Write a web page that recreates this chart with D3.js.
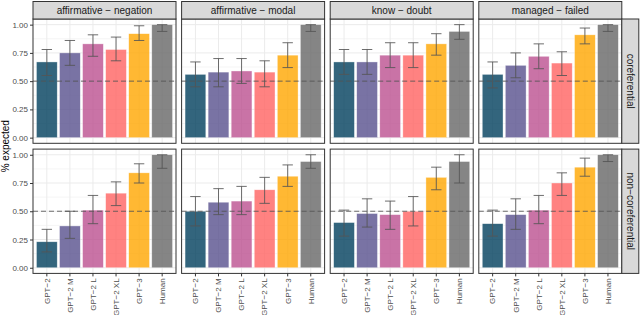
<!DOCTYPE html>
<html>
<head>
<meta charset="utf-8">
<script src="https://cdn.jsdelivr.net/npm/d3@7"></script>
<style>
  body { margin: 0; background: #fff; }
  svg { display: block; font-family: "Liberation Sans", Arial, sans-serif; }
</style>
</head>
<body>
<div id="chart"></div>
<script>
// models on the x axis, one facet column per contrast, one facet row per condition
var categories = ["GPT\u22122", "GPT\u22122 M", "GPT\u22122 L", "GPT\u22122 XL", "GPT\u22123", "Human"];
var contrasts = ["affirmative \u2212 negation", "affirmative \u2212 modal", "know \u2212 doubt", "managed \u2212 failed"];
var conditions = ["coreferential", "non\u2212coreferential"];
var yTicks = [0, 0.25, 0.5, 0.75, 1];
var yMinor = [0.125, 0.375, 0.625, 0.875];

// coreferential row (one array per contrast)
var corefMean = [
  [0.67, 0.75, 0.83, 0.78, 0.92, 1.00],
  [0.56, 0.58, 0.59, 0.58, 0.73, 1.00],
  [0.67, 0.67, 0.73, 0.73, 0.83, 0.94],
  [0.56, 0.64, 0.72, 0.66, 0.91, 1.00]
];
var corefLow = [
  [0.55, 0.64, 0.72, 0.68, 0.86, 0.94],
  [0.45, 0.45, 0.48, 0.45, 0.62, 0.94],
  [0.56, 0.56, 0.62, 0.62, 0.73, 0.87],
  [0.44, 0.53, 0.61, 0.55, 0.83, 0.94]
];
var corefHigh = [
  [0.78, 0.86, 0.91, 0.89, 0.99, 1.00],
  [0.67, 0.70, 0.70, 0.68, 0.84, 1.00],
  [0.78, 0.78, 0.84, 0.84, 0.92, 1.00],
  [0.67, 0.75, 0.83, 0.76, 0.97, 1.00]
];

// non-coreferential row
var noncorefMean = [
  [0.23, 0.37, 0.51, 0.66, 0.84, 1.00],
  [0.50, 0.58, 0.59, 0.69, 0.81, 0.94],
  [0.40, 0.48, 0.47, 0.50, 0.80, 0.94],
  [0.39, 0.47, 0.51, 0.75, 0.89, 1.00]
];
var noncorefLow = [
  [0.14, 0.26, 0.39, 0.55, 0.75, 0.88],
  [0.37, 0.47, 0.47, 0.57, 0.72, 0.88],
  [0.28, 0.36, 0.34, 0.37, 0.69, 0.75],
  [0.28, 0.34, 0.39, 0.64, 0.81, 0.94]
];
var noncorefHigh = [
  [0.34, 0.50, 0.64, 0.76, 0.92, 1.00],
  [0.63, 0.70, 0.72, 0.80, 0.91, 1.00],
  [0.51, 0.61, 0.59, 0.63, 0.89, 1.00],
  [0.51, 0.61, 0.64, 0.84, 0.97, 1.00]
];

var colors = ["#003f5c", "#58508d", "#bc5090", "#ff6361", "#ffa600", "#666666"];

var rows = [
  { mean: corefMean, low: corefLow, high: corefHigh },
  { mean: noncorefMean, low: noncorefLow, high: noncorefHigh }
];

var W = 640, H = 315;
var left = 33, panelW = 143, gapX = 5.6;
var stripTop = 1.5, stripH = 17.5, panelH = 124.3, gapY = 5.8;
var stripW = 17;

var svg = d3.select("#chart").append("svg")
  .attr("width", W).attr("height", H);

var x = d3.scaleBand().domain(categories)
  .range([0, panelW]).paddingInner(0.1).paddingOuter(0.15);
var color = d3.scaleOrdinal().domain(categories).range(colors);

function panelTop(r) { return stripTop + stripH + r * (panelH + gapY); }
function panelLeft(c) { return left + c * (panelW + gapX); }

rows.forEach(function(row, r) {
  var y = d3.scaleLinear().domain([-0.05, 1.05]).range([panelH, 0]);

  contrasts.forEach(function(name, c) {
    var g = svg.append("g")
      .attr("transform", "translate(" + panelLeft(c) + "," + panelTop(r) + ")");

    // grid
    g.selectAll(".minor").data(yMinor).enter().append("line")
      .attr("x1", 0).attr("x2", panelW)
      .attr("y1", function(d) { return y(d); }).attr("y2", function(d) { return y(d); })
      .attr("stroke", "#ebebeb").attr("stroke-width", 0.5);
    g.selectAll(".major").data(yTicks).enter().append("line")
      .attr("x1", 0).attr("x2", panelW)
      .attr("y1", function(d) { return y(d); }).attr("y2", function(d) { return y(d); })
      .attr("stroke", "#ebebeb").attr("stroke-width", 1);
    g.selectAll(".vgrid").data(categories).enter().append("line")
      .attr("x1", function(d) { return x(d) + x.bandwidth() / 2; })
      .attr("x2", function(d) { return x(d) + x.bandwidth() / 2; })
      .attr("y1", 0).attr("y2", panelH)
      .attr("stroke", "#ebebeb").attr("stroke-width", 1);

    var data = categories.map(function(k, i) {
      return { k: k, v: row.mean[c][i], lo: row.low[c][i], hi: row.high[c][i] };
    });

    // bars
    g.selectAll("rect.bar").data(data).enter().append("rect")
      .attr("class", "bar")
      .attr("x", function(d) { return x(d.k); })
      .attr("width", x.bandwidth())
      .attr("y", function(d) { return y(d.v); })
      .attr("height", function(d) { return y(0) - y(d.v); })
      .attr("fill", function(d) { return color(d.k); })
      .attr("fill-opacity", 0.8)
      .attr("stroke", "#ffffff").attr("stroke-opacity", 0.6).attr("stroke-width", 0.6);

    // error bars
    var cap = x.step() * 0.45 / 2;
    var eb = g.selectAll("g.err").data(data).enter().append("g")
      .attr("stroke", "#555555").attr("stroke-opacity", 0.85).attr("stroke-width", 1);
    eb.append("line")
      .attr("x1", function(d) { return x(d.k) + x.bandwidth() / 2; })
      .attr("x2", function(d) { return x(d.k) + x.bandwidth() / 2; })
      .attr("y1", function(d) { return y(d.lo); })
      .attr("y2", function(d) { return y(d.hi); });
    eb.append("line")
      .attr("x1", function(d) { return x(d.k) + x.bandwidth() / 2 - cap; })
      .attr("x2", function(d) { return x(d.k) + x.bandwidth() / 2 + cap; })
      .attr("y1", function(d) { return y(d.lo); })
      .attr("y2", function(d) { return y(d.lo); });
    eb.append("line")
      .attr("x1", function(d) { return x(d.k) + x.bandwidth() / 2 - cap; })
      .attr("x2", function(d) { return x(d.k) + x.bandwidth() / 2 + cap; })
      .attr("y1", function(d) { return y(d.hi); })
      .attr("y2", function(d) { return y(d.hi); });

    // chance line
    g.append("line")
      .attr("x1", 0).attr("x2", panelW)
      .attr("y1", y(0.5)).attr("y2", y(0.5))
      .attr("stroke", "#555555").attr("stroke-opacity", 0.85)
      .attr("stroke-width", 1).attr("stroke-dasharray", "5,3");

    // border
    g.append("rect")
      .attr("width", panelW).attr("height", panelH)
      .attr("fill", "none").attr("stroke", "#333333").attr("stroke-width", 1);

    // top strips
    if (r === 0) {
      svg.append("rect")
        .attr("x", panelLeft(c)).attr("y", stripTop)
        .attr("width", panelW).attr("height", stripH)
        .attr("fill", "#d9d9d9").attr("stroke", "#333333").attr("stroke-width", 1);
      svg.append("text")
        .attr("x", panelLeft(c) + panelW / 2).attr("y", stripTop + stripH / 2)
        .attr("dy", "0.35em").attr("text-anchor", "middle")
        .attr("font-size", 10).attr("fill", "#1a1a1a")
        .text(name);
    }

    // y axis on first column
    if (c === 0) {
      var ya = g.append("g").call(d3.axisLeft(y).tickValues(yTicks)
        .tickFormat(d3.format(".2f")).tickSize(3).tickPadding(2));
      ya.select(".domain").remove();
      ya.selectAll("line").attr("stroke", "#333333");
      ya.selectAll("text").attr("font-size", 8).attr("fill", "#4d4d4d")
        .attr("font-family", "Liberation Sans, Arial, sans-serif");
    }

    // x axis on bottom row
    if (r === rows.length - 1) {
      var xa = g.append("g").attr("transform", "translate(0," + panelH + ")")
        .call(d3.axisBottom(x).tickSize(3).tickPadding(2));
      xa.select(".domain").remove();
      xa.selectAll("line").attr("stroke", "#333333");
      xa.selectAll("text")
        .attr("font-size", 8).attr("fill", "#4d4d4d")
        .attr("font-family", "Liberation Sans, Arial, sans-serif")
        .attr("transform", "rotate(-90)")
        .attr("text-anchor", "end")
        .attr("x", -5).attr("y", 0).attr("dy", "0.35em");
    }
  });

  // right strip
  var sx = panelLeft(contrasts.length - 1) + panelW;
  svg.append("rect")
    .attr("x", sx).attr("y", panelTop(r))
    .attr("width", stripW).attr("height", panelH)
    .attr("fill", "#d9d9d9").attr("stroke", "#333333").attr("stroke-width", 1);
  svg.append("text")
    .attr("transform", "translate(" + (sx + stripW / 2) + "," + (panelTop(r) + panelH / 2) + ") rotate(90)")
    .attr("dy", "0.35em").attr("text-anchor", "middle")
    .attr("font-size", 10).attr("fill", "#1a1a1a")
    .text(conditions[r]);
});

// y title
svg.append("text")
  .attr("transform", "translate(5," + (panelTop(0) + (2 * panelH + gapY) / 2) + ") rotate(-90)")
  .attr("dy", "0.35em").attr("text-anchor", "middle")
  .attr("font-size", 10).attr("fill", "#000")
  .text("% expected");
</script>
</body>
</html>
